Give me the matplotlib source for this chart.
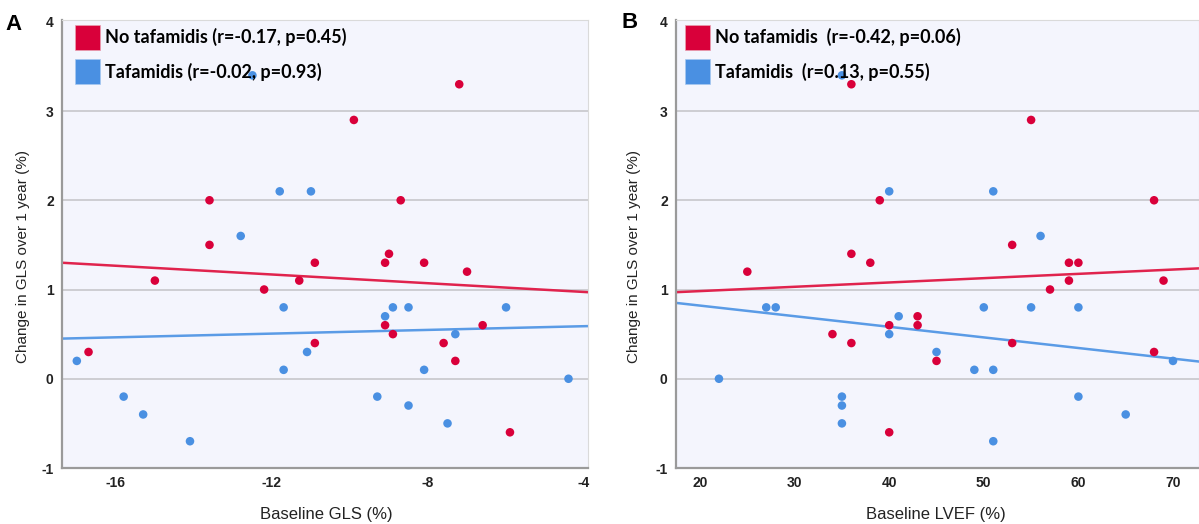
import matplotlib
matplotlib.use("Agg")
import matplotlib.pyplot as plt
from matplotlib.patches import Patch

# ---------------- data ----------------
# Panel A: Baseline GLS (%) vs change in GLS over 1 year (%)
red_x_A = [-7.2, -9.9, -13.6, -8.7, -13.6, -9.0, -10.9, -9.1, -8.1, -7.0, -15.0,
           -11.3, -12.2, -9.1, -6.6, -8.9, -10.9, -7.6, -16.7, -7.3, -5.9]
red_y_A = [3.3, 2.9, 2.0, 2.0, 1.5, 1.4, 1.3, 1.3, 1.3, 1.2, 1.1,
           1.1, 1.0, 0.6, 0.6, 0.5, 0.4, 0.4, 0.3, 0.2, -0.6]
blue_x_A = [-12.5, -11.8, -11.0, -12.8, -11.7, -8.9, -8.5, -6.0, -9.1, -7.3, -11.1,
            -17.0, -11.7, -8.1, -4.4, -15.8, -9.3, -15.3, -8.5, -7.5, -14.1]
blue_y_A = [3.4, 2.1, 2.1, 1.6, 0.8, 0.8, 0.8, 0.8, 0.7, 0.5, 0.3,
            0.2, 0.1, 0.1, 0.0, -0.2, -0.2, -0.4, -0.3, -0.5, -0.7]
# fit lines (value at left and right x-limit)
xlim_A = [-17.38, -3.9]
red_fit_A = [1.30, 0.97]
blue_fit_A = [0.45, 0.59]
xticks_A = [-16, -12, -8, -4]
labels_A = ["No tafamidis (r=-0.17, p=0.45)", "Tafamidis (r=-0.02, p=0.93)"]

# Panel B: Baseline LVEF (%) vs change in GLS over 1 year (%)
red_x_B = [36, 55, 39, 68, 53, 36, 38, 59, 60, 25, 59, 69, 57, 43, 40, 43,
           34, 36, 53, 68, 45, 40]
red_y_B = [3.3, 2.9, 2.0, 2.0, 1.5, 1.4, 1.3, 1.3, 1.3, 1.2, 1.1, 1.1, 1.0, 0.7, 0.6, 0.6,
           0.5, 0.4, 0.4, 0.3, 0.2, -0.6]
blue_x_B = [35, 40, 51, 56, 27, 28, 50, 55, 60, 41, 40, 45, 70, 49, 51, 22,
            35, 35, 35, 60, 65, 51]
blue_y_B = [3.4, 2.1, 2.1, 1.6, 0.8, 0.8, 0.8, 0.8, 0.8, 0.7, 0.5, 0.3, 0.2, 0.1, 0.1, 0.0,
            -0.2, -0.3, -0.5, -0.2, -0.4, -0.7]
xlim_B = [17.46, 72.75]
red_fit_B = [0.97, 1.237]
blue_fit_B = [0.85, 0.193]
xticks_B = [20, 30, 40, 50, 60, 70]
labels_B = ["No tafamidis  (r=-0.42, p=0.06)", "Tafamidis  (r=0.13, p=0.55)"]

yticks = [-1, 0, 1, 2, 3, 4]

# ---------------- style ----------------
RED = "#D9003A"
BLUE = "#4A90E2"
RED_LINE = "#E0234D"
BLUE_LINE = "#5A9BE6"
BG = "#F4F5FD"
GRID = "#CDCDD2"
TICKFONT = ["Liberation Sans", "DejaVu Sans"]
LEGFONT = ["Lato", "DejaVu Sans"]
LABFONT = ["Liberation Sans", "DejaVu Sans"]

W, H = 1199, 524
fig = plt.figure(figsize=(W / 100, H / 100), dpi=100)
fig.patch.set_facecolor("white")

def px_axes(l, r, t, b):
    return fig.add_axes([l / W, 1 - b / H, (r - l) / W, (b - t) / H])

axA = px_axes(62, 588, 20, 468)
axB = px_axes(676, 1199, 20, 468)

def style(ax, xlim, xticks, rx, ry, bx, by, rfit, bfit, labels, xlabel, xlab_x,
          leg_x, ylab_x):
    ax.set_facecolor(BG)
    ax.set_xlim(xlim)
    ax.set_ylim(-1, 4.02)
    for yv in yticks[1:-1]:
        ax.axhline(yv, color=GRID, lw=1.4, zorder=1)
    ax.plot(xlim, rfit, color=RED_LINE, lw=1.8, zorder=2)
    ax.plot(xlim, bfit, color=BLUE_LINE, lw=1.8, zorder=2)
    ax.scatter(bx, by, s=38, color=BLUE, edgecolors="none", zorder=3)
    ax.scatter(rx, ry, s=38, color=RED, edgecolors="none", zorder=3)
    ax.set_xticks(xticks)
    ax.set_xticklabels([str(t) for t in xticks])
    ax.set_yticks(yticks)
    ax.set_yticklabels([str(t) for t in yticks])
    ax.tick_params(length=0, pad=6)
    for lab in ax.get_xticklabels() + ax.get_yticklabels():
        lab.set_fontfamily(TICKFONT)
        lab.set_fontweight("bold")
        lab.set_fontsize(10)
        lab.set_color("#222222")
    for s in ["left", "bottom"]:
        ax.spines[s].set_color("#9A9A9A")
        ax.spines[s].set_linewidth(1.6)
    for s in ["top", "right"]:
        ax.spines[s].set_color("#DADADA")
        ax.spines[s].set_linewidth(0.8)
    handles = [Patch(facecolor=RED, edgecolor="#E8A0B0", lw=0.5),
               Patch(facecolor=BLUE, edgecolor="#A8C8F0", lw=0.5)]
    leg = ax.legend(handles, labels, loc="upper left", bbox_to_anchor=(leg_x, 0.989),
                    frameon=False, handlelength=1.38, handleheight=1.77,
                    handletextpad=0.3, labelspacing=0.5, borderpad=0.0,
                    borderaxespad=0.0,
                    prop={"family": LEGFONT, "weight": "bold", "size": 13})
    leg.set_zorder(5)
    ax.set_ylabel("Change in GLS over 1 year (%)", fontfamily=LABFONT, fontsize=11,
                  color="#222222")
    ax.yaxis.set_label_coords(ylab_x, 0.473)
    fig.text(xlab_x / W, 1 - 515 / H, xlabel, ha="center", va="center",
             fontfamily=LABFONT, fontsize=12, color="#222222")

style(axA, xlim_A, xticks_A, red_x_A, red_y_A, blue_x_A, blue_y_A,
      red_fit_A, blue_fit_A, labels_A, "Baseline GLS (%)", 326, 0.0247, -0.061)
style(axB, xlim_B, xticks_B, red_x_B, red_y_B, blue_x_B, blue_y_B,
      red_fit_B, blue_fit_B, labels_B, "Baseline LVEF (%)", 936, 0.0172, -0.067)

fig.text(14 / W, 1 - 25 / H, "A", ha="center", va="center", fontsize=16,
         fontweight="bold", fontfamily=LABFONT)
fig.text(630 / W, 1 - 23 / H, "B", ha="center", va="center", fontsize=16,
         fontweight="bold", fontfamily=LABFONT)

fig.savefig("out.png", dpi=100)
